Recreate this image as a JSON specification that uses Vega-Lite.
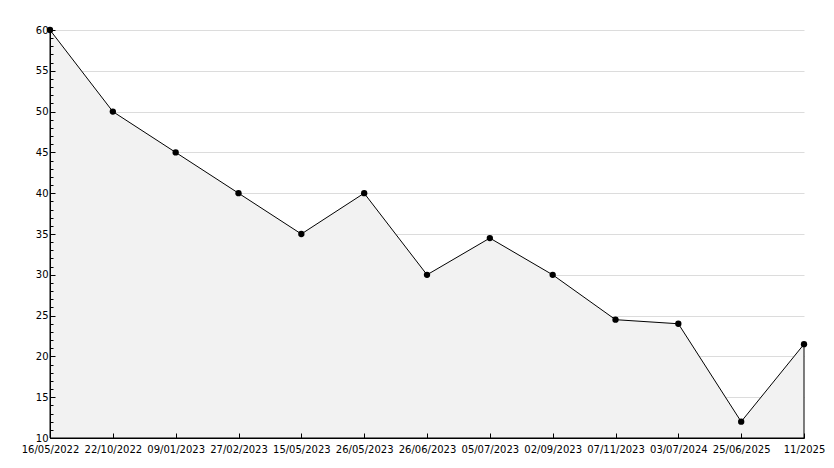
{
  "$schema": "https://vega.github.io/schema/vega-lite/v6.json",
  "width": 754,
  "height": 408,
  "autosize": {"type": "none"},
  "padding": {"left": 50, "top": 30, "right": 30, "bottom": 30},
  "background": "white",
  "config": {
    "view": {"stroke": null},
    "axis": {
      "labelFont": "DejaVu Sans",
      "labelFontSize": 10,
      "labelColor": "black",
      "domainColor": "black",
      "domainWidth": 1,
      "tickColor": "black",
      "tickWidth": 1
    }
  },
  "data": {
    "values": [
      {"date": "16/05/2022", "value": 60},
      {"date": "22/10/2022", "value": 50},
      {"date": "09/01/2023", "value": 45},
      {"date": "27/02/2023", "value": 40},
      {"date": "15/05/2023", "value": 35},
      {"date": "26/05/2023", "value": 40},
      {"date": "26/06/2023", "value": 30},
      {"date": "05/07/2023", "value": 34.5},
      {"date": "02/09/2023", "value": 30},
      {"date": "07/11/2023", "value": 24.5},
      {"date": "03/07/2024", "value": 24},
      {"date": "25/06/2025", "value": 12},
      {"date": "11/2025", "value": 21.5}
    ]
  },
  "encoding": {
    "x": {
      "field": "date",
      "type": "ordinal",
      "sort": null,
      "scale": {"type": "point", "padding": 0},
      "axis": {
        "title": null,
        "labelAngle": 0,
        "labelOverlap": false,
        "labelBound": false,
        "labelFlush": false,
        "tickSize": -5,
        "labelPadding": 11,
        "grid": false,
        "zindex": 1
      }
    }
  },
  "layer": [
    {
      "mark": {"type": "area", "fill": "#f2f2f2", "stroke": "black", "strokeWidth": 1},
      "encoding": {
        "y": {
          "field": "value",
          "type": "quantitative",
          "scale": {"domain": [10, 60], "zero": false, "nice": false},
          "axis": {
            "orient": "left",
            "grid": true,
            "gridColor": "#dcdcdc",
            "gridWidth": 1,
            "domain": false,
            "ticks": false,
            "labels": false,
            "title": null,
            "values": [10, 15, 20, 25, 30, 35, 40, 45, 50, 55, 60],
            "zindex": 0
          }
        },
        "y2": {"datum": 10}
      }
    },
    {
      "mark": {"type": "point", "shape": "circle", "filled": true, "color": "black", "size": 40, "opacity": 1},
      "encoding": {
        "y": {
          "field": "value",
          "type": "quantitative",
          "axis": {
            "orient": "left",
            "grid": false,
            "title": null,
            "values": [10,11,12,13,14,15,16,17,18,19,20,21,22,23,24,25,26,27,28,29,30,31,32,33,34,35,36,37,38,39,40,41,42,43,44,45,46,47,48,49,50,51,52,53,54,55,56,57,58,59,60],
            "tickSize": {"condition": {"test": "datum.value % 5 === 0", "value": -5}, "value": -3},
            "labelExpr": "datum.value % 5 === 0 ? datum.label : ''",
            "labelPadding": 7,
            "zindex": 1
          }
        }
      }
    }
  ],
  "resolve": {"axis": {"y": "independent"}}
}
